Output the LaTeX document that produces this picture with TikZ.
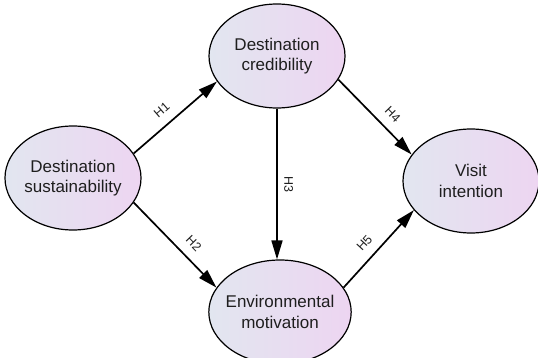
\documentclass[tikz,border=0pt]{standalone}
\usepackage{fontspec}
\setmainfont{Liberation Sans}
\usetikzlibrary{arrows.meta,shapes.geometric}

\definecolor{ovalleft}{RGB}{226,230,240}
\definecolor{ovalright}{RGB}{237,213,241}
\definecolor{inkgray}{RGB}{30,30,30}

\begin{document}
\begin{tikzpicture}[x=1pt,y=-1pt,
  >={Triangle[length=19pt,width=11pt]},
  construct/.style={ellipse,draw=black,line width=1.2pt,
    left color=ovalleft,right color=ovalright,
    minimum width=136pt,minimum height=104pt,inner xsep=-4pt,inner ysep=0pt,
    align=center,text=inkgray,font=\fontsize{17}{20.5}\selectfont},
  hyp/.style={->,line width=1.7pt},
  hfont/.style={font=\fontsize{12.5}{14}\selectfont,text=inkgray},
  hlabel/.style={hfont,sloped,above=6pt}]
  \useasboundingbox (0,0) rectangle (538,358);
  % ---- constructs ----
  \node[construct] (sus)  at (73,178)  {Destination\\sustainability};
  \node[construct] (cred) at (277,56)  {Destination\\credibility};
  \node[construct] (env)  at (280,312) {Environmental\\motivation};
  \node[construct] (vis)  at (471,181) {Visit\\intention};
  % ---- hypotheses ----
  \draw[hyp] (sus.22)  -- node[hlabel,pos=0.45] {H1} (cred.203);
  \draw[hyp] (sus.-22) -- node[hlabel,pos=0.6]  {H2} (env.159);
  \draw[hyp] (cred.south) -- node[hfont,midway,rotate=-90,anchor=south,yshift=3pt] {H3} (cred.south |- env.north);
  \draw[hyp] (cred.-21) -- node[hlabel,pos=0.6]  {H4} (vis.156);
  \draw[hyp] (env.21)   -- node[hlabel,pos=0.45] {H5} (vis.207);
\end{tikzpicture}
\end{document}
